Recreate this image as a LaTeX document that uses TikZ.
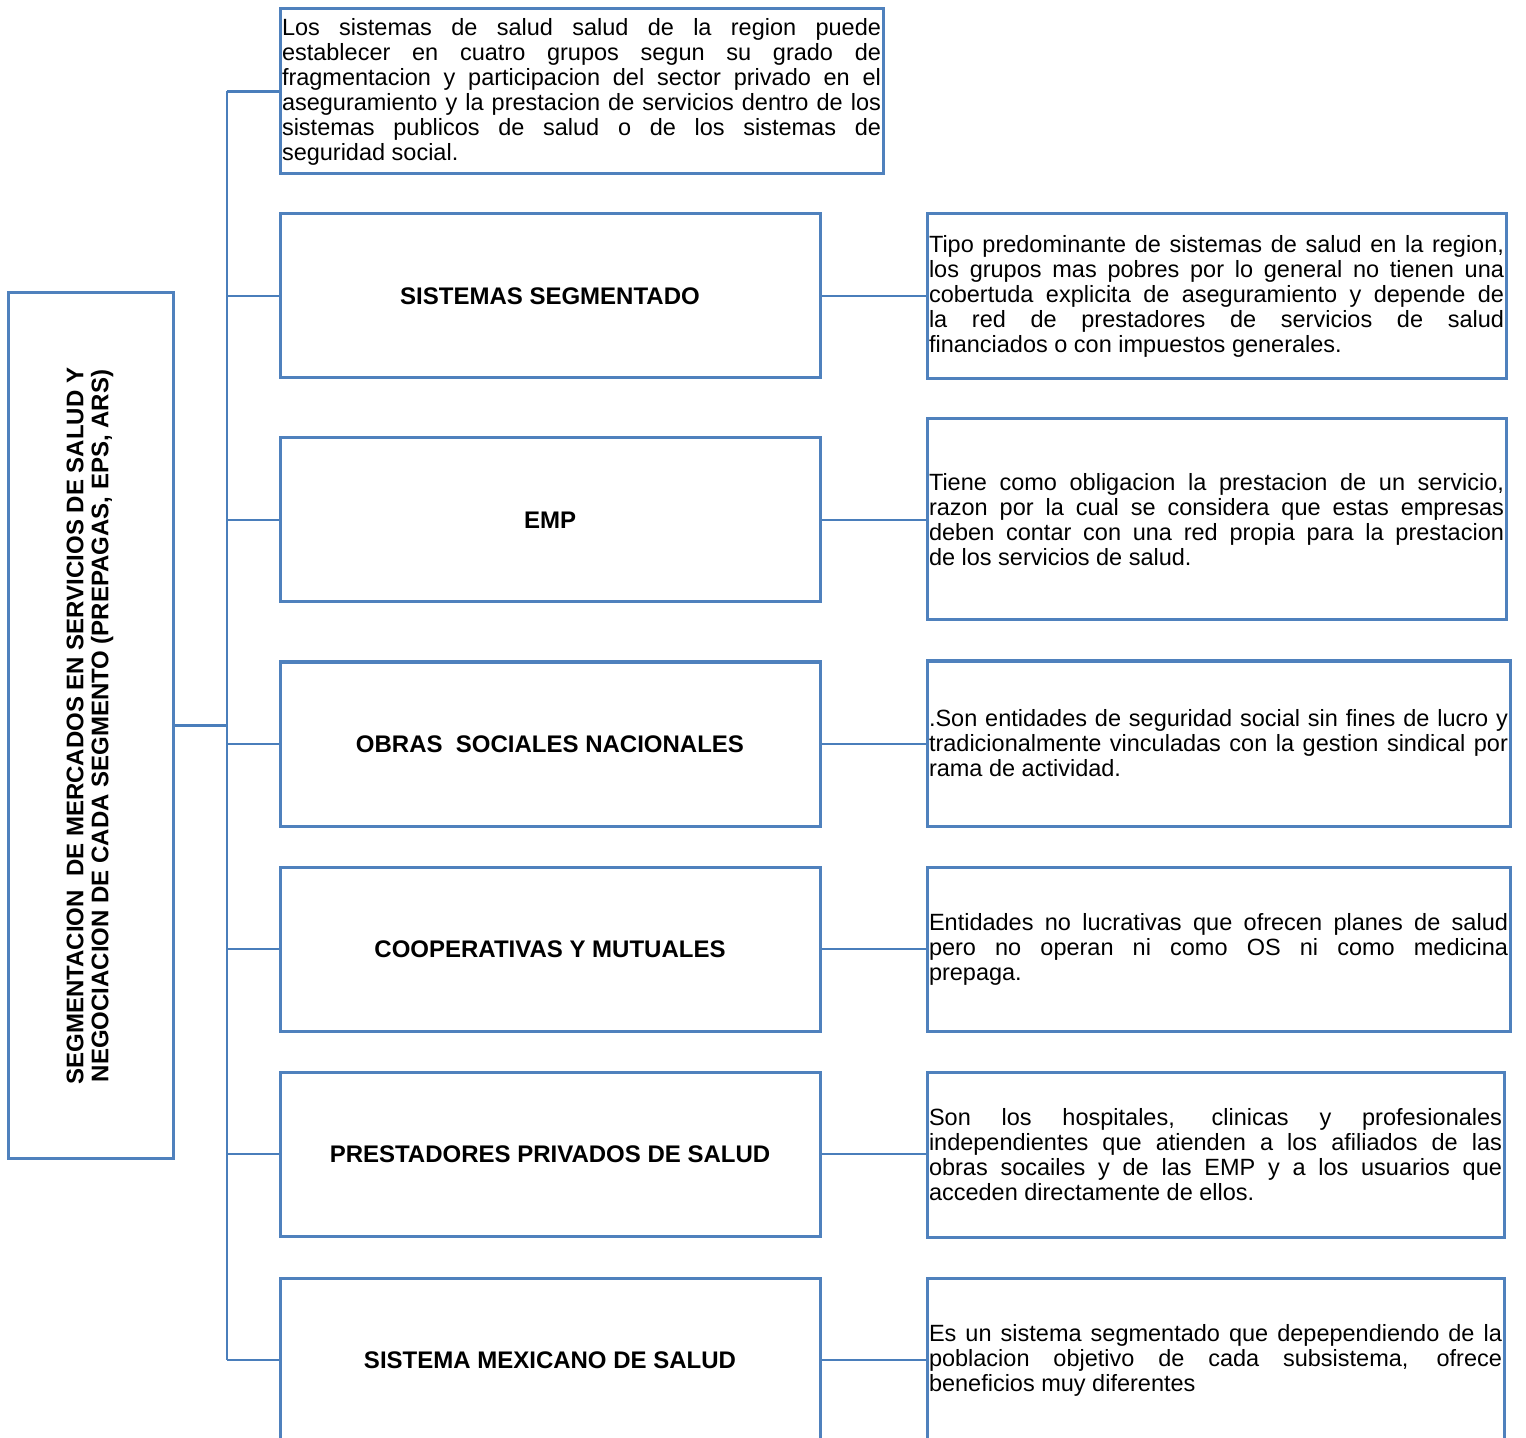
\documentclass[tikz,border=0pt]{standalone}
\usepackage{fontspec}
\setmainfont{Liberation Sans}
\definecolor{boxblue}{HTML}{4F81BD}
\definecolor{linkblue}{HTML}{4A7EBB}
\newcommand{\jl}{\linebreak}
\newcommand{\txtfont}{\fontsize{11.75}{12.5}\selectfont\tolerance=10000\relax\hyphenpenalty=10000\relax\hbadness=10000\relax}
\begin{document}
\begin{tikzpicture}[x=0.5pt,y=-0.5pt,
  box/.style={draw=boxblue, line width=1.5pt, rectangle, inner sep=0pt},
  txtbox/.style={draw=boxblue, line width=1.5pt, rectangle, inner xsep=1pt, inner ysep=0pt,
     align=justify, font=\txtfont},
  midbox/.style={box, minimum width=270pt, minimum height=82pt,
     font=\fontsize{12}{12.5}\selectfont\bfseries},
  link/.style={draw=linkblue, line width=1.25pt}]
\useasboundingbox (0,0) rectangle (1526,1438);
\clip (0,0) rectangle (1526,1438);

% left title box
\node[box, minimum width=82.5pt, minimum height=432.5pt] (left) at (90.5,725.5) {};
\node[rotate=90, align=center, inner sep=0pt, font=\fontsize{12}{12.5}\selectfont\bfseries] (lefttext) at (90,726)
  {SEGMENTACION\ \ DE MERCADOS EN SERVICIOS DE SALUD Y\\NEGOCIACION DE CADA SEGMENTO (PREPAGAS, EPS, ARS)};

% top text box
\node[txtbox, text width=299.5pt, minimum height=82.5pt] (top) at (581.5,91.5) {%
Los sistemas de salud salud de la region puede\jl
establecer en cuatro grupos segun su grado de\jl
fragmentacion y participacion del sector privado en el\jl
aseguramiento y la prestacion de servicios dentro de los\jl
sistemas publicos de salud o de los sistemas de\jl
seguridad social.};

% middle boxes
\node[midbox] (m1) at (550,296) {SISTEMAS SEGMENTADO};
\node[midbox] (m2) at (550,520) {EMP};
\node[midbox] (m3) at (550,744) {OBRAS\ \ SOCIALES NACIONALES};
\node[midbox] (m4) at (550,949) {COOPERATIVAS Y MUTUALES};
\node[midbox] (m5) at (550,1154) {PRESTADORES PRIVADOS DE SALUD};
\node[midbox] (m6) at (550,1360) {SISTEMA MEXICANO DE SALUD};

% right boxes
\node[txtbox, text width=287.5pt, minimum height=82.5pt] (r1) at (1216.5,296.5) {%
Tipo predominante de sistemas de salud en la region,\jl
los grupos mas pobres por lo general no tienen una\jl
cobertuda explicita de aseguramiento y depende de\jl
la red de prestadores de servicios de salud\jl
financiados o con impuestos generales.};

\node[txtbox, text width=287.5pt, minimum height=100.5pt] (r2) at (1216.5,519.5) {%
Tiene como obligacion la prestacion de un servicio,\jl
razon por la cual se considera que estas empresas\jl
deben contar con una red propia para la prestacion\jl
de los servicios de salud.};

\node[txtbox, text width=289.5pt, minimum height=82.5pt] (r3) at (1218.5,743.5) {%
.Son entidades de seguridad social sin fines de lucro y\jl
tradicionalmente vinculadas con la gestion sindical por\jl
rama de actividad.};

\node[txtbox, text width=289.5pt, minimum height=82pt] (r4) at (1218.5,949) {%
Entidades no lucrativas que ofrecen planes de salud\jl
pero no operan ni como OS ni como medicina\jl
prepaga.};

\node[txtbox, text width=286.5pt, minimum height=82.5pt] (r5) at (1215.5,1154.5) {%
Son los hospitales, clinicas y profesionales\jl
independientes que atienden a los afiliados de las\jl
obras socailes y de las EMP y a los usuarios que\jl
acceden directamente de ellos.};

\node[txtbox, text width=286.5pt, minimum height=82pt] (r6) at (1215.5,1360) {%
Es un sistema segmentado que depependiendo de la\jl
poblacion objetivo de cada subsistema, ofrece\jl
beneficios muy diferentes};

% connectors
\coordinate (trunk) at (227,0);
\draw[link] (left.east) -- (left.east -| trunk);
\draw[link] (trunk |- top.west) -- (trunk |- m6.west);
\draw[link] (trunk |- top.west) -- (top.west);
\foreach \m in {m1,m2,m3,m4,m5,m6}{
  \draw[link] (trunk |- \m.west) -- (\m.west);
}
\draw[link] (m1.east) -- (m1.east -| r1.west);
\draw[link] (m2.east) -- (m2.east -| r2.west);
\draw[link] (m3.east) -- (m3.east -| r3.west);
\draw[link] (m4.east) -- (m4.east -| r4.west);
\draw[link] (m5.east) -- (m5.east -| r5.west);
\draw[link] (m6.east) -- (m6.east -| r6.west);
\end{tikzpicture}
\end{document}
